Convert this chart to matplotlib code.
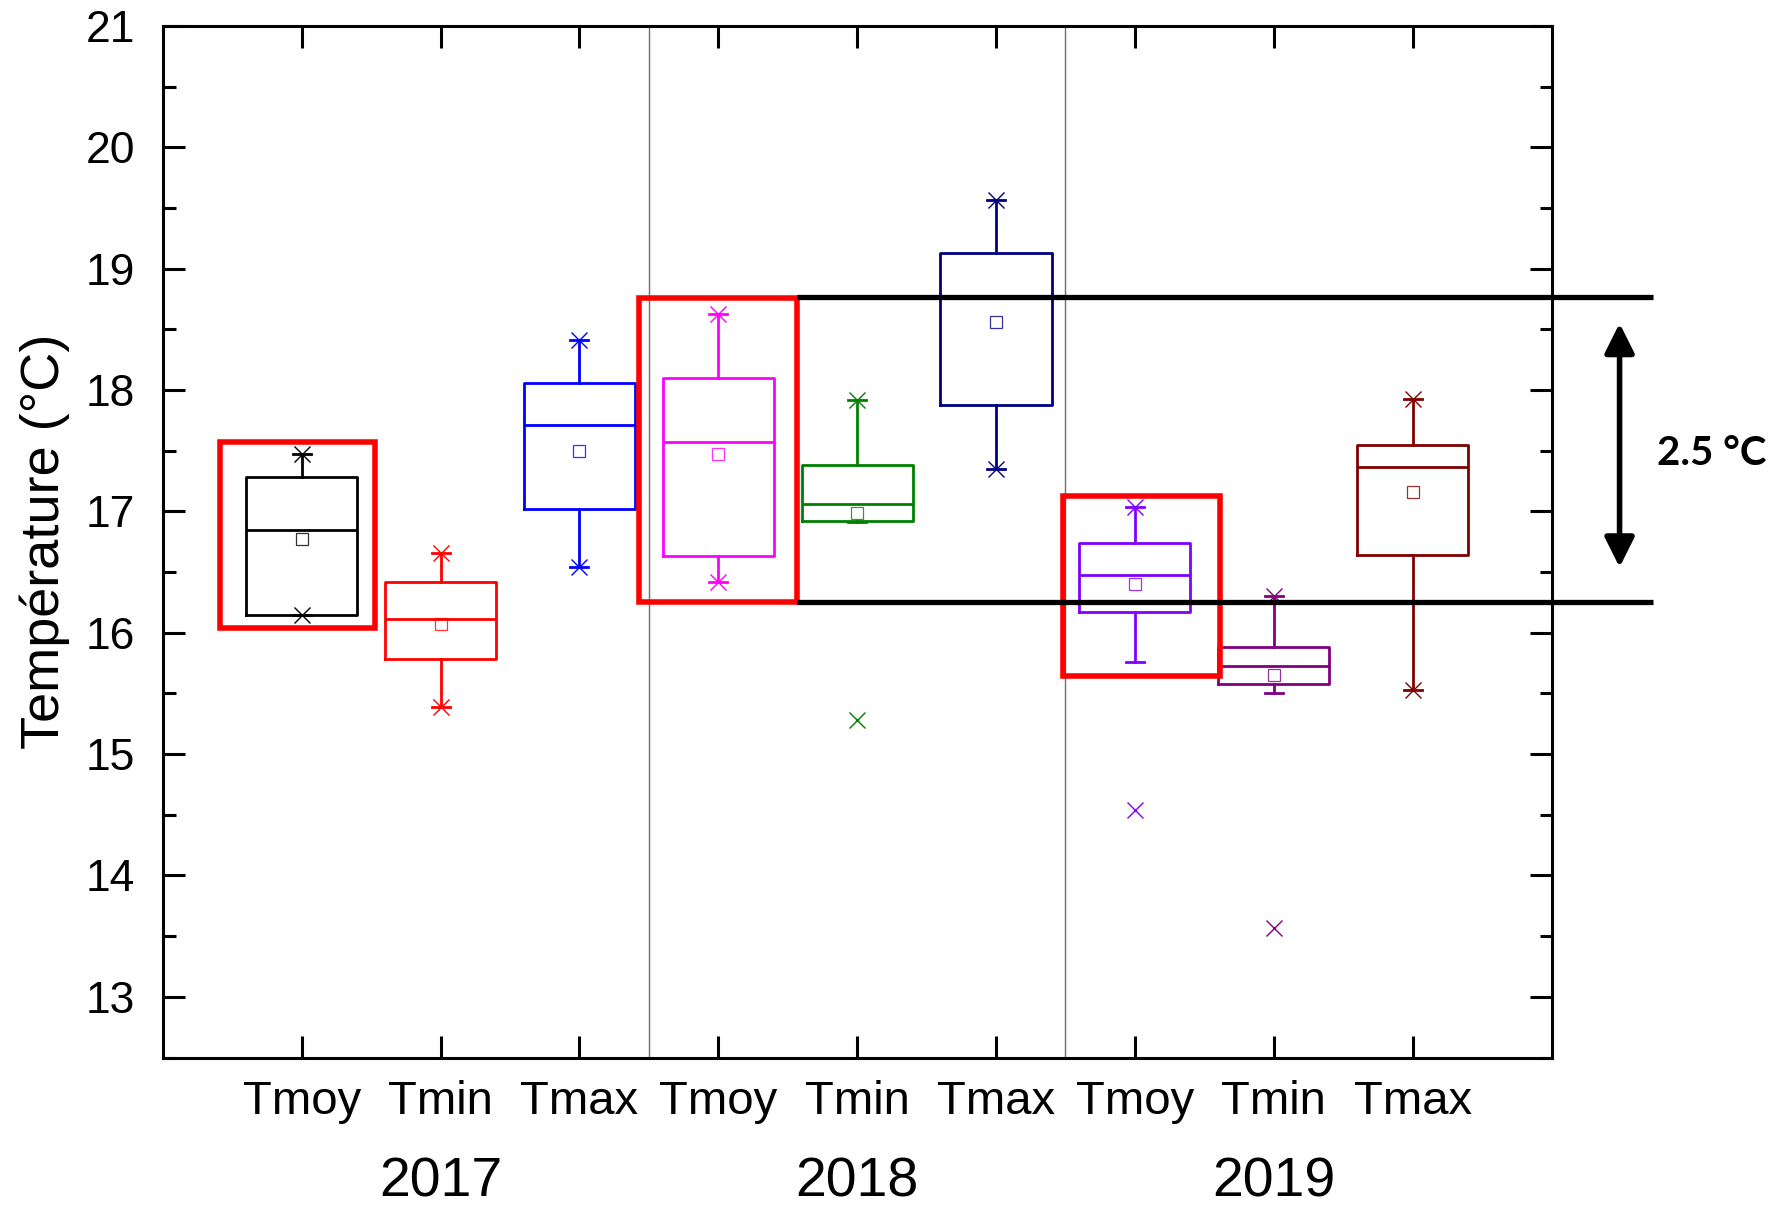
import matplotlib
matplotlib.use("Agg")
import matplotlib.pyplot as plt
from matplotlib.patches import Rectangle
from matplotlib.ticker import MultipleLocator
import matplotlib.transforms as mtransforms

# box plot statistics (°C)
positions = [1, 2, 3, 4, 5, 6, 7, 8, 9]
labels = ['Tmoy', 'Tmin', 'Tmax'] * 3
years = ['2017', '2018', '2019']
year_pos = [2, 5, 8]
colors = ['black', '#ff0000', '#0000ff', '#ff00ff', '#008000',
          '#000080', '#8000ff', '#800080', '#800000']

q1 = [16.15, 15.78, 17.02, 16.63, 16.92, 17.88, 16.17, 15.58, 16.64]
med = [16.85, 16.11, 17.71, 17.57, 17.06, 18.77, 16.48, 15.73, 17.37]
q3 = [17.28, 16.42, 18.06, 18.10, 17.38, 19.13, 16.74, 15.88, 17.55]
means = [16.77, 16.07, 17.50, 17.47, 16.99, 18.56, 16.40, 15.65, 17.16]
whislo = [16.15, 15.39, 16.54, 16.42, 16.91, 17.35, 15.76, 15.50, 15.53]
whishi = [17.47, 16.66, 18.41, 18.63, 17.92, 19.57, 17.04, 16.30, 17.93]
tmin = [16.15, 15.39, 16.54, 16.42, 15.28, 17.35, 14.54, 13.57, 15.53]
tmax = [17.47, 16.66, 18.41, 18.63, 17.92, 19.57, 17.04, 16.30, 17.93]

# highlight annotations (x0, x1, y0, y1 in data units)
highlights = [(0.41, 1.53, 16.04, 17.57),
              (3.43, 4.57, 16.25, 18.76),
              (6.48, 7.61, 15.64, 17.13)]
band = [16.25, 18.77]
band_x = [4.57, 10.73]
arrow_x = 10.49
arrow_y = [16.54, 18.55]

plt.rcParams['font.family'] = ['Liberation Sans', 'DejaVu Sans']

fig = plt.figure(figsize=(17.85, 12.14), dpi=100)
ax = fig.add_axes([0.0912, 0.1289, 0.8865 - 0.0912 - 0.0173, 0.9786 - 0.1289])

lw = 2.0
for i in range(len(positions)):
    c = colors[i]
    stats = [dict(q1=q1[i], med=med[i], q3=q3[i], mean=means[i],
                  whislo=whislo[i], whishi=whishi[i],
                  fliers=[tmin[i], tmax[i]])]
    ax.bxp(stats, positions=[positions[i]], widths=0.8, showmeans=True,
           capwidths=[0.13],
           boxprops=dict(color=c, linewidth=lw),
           medianprops=dict(color=c, linewidth=lw),
           whiskerprops=dict(color=c, linewidth=lw),
           capprops=dict(color=c, linewidth=lw),
           meanprops=dict(marker='s', markerfacecolor='none',
                          markeredgecolor=c, markersize=9,
                          markeredgewidth=0.9, alpha=0.8),
           flierprops=dict(marker='x', markeredgecolor=c, markersize=11,
                           markeredgewidth=1.0, linestyle='none'),
           manage_ticks=False)

# year separators
for xs in [3.5, 6.5]:
    ax.axvline(xs, color='#707070', linewidth=1.0, zorder=1)

ax.set_xlim(0, 10)
ax.set_ylim(12.5, 21)
ax.set_xticks(positions)
ax.set_xticklabels(labels)
ax.yaxis.set_major_locator(MultipleLocator(1))
ax.yaxis.set_minor_locator(MultipleLocator(0.5))
ax.tick_params(axis='both', which='both', direction='in', top=True,
               right=True, width=2.2)
ax.tick_params(axis='both', which='major', length=16)
ax.tick_params(axis='both', which='minor', length=9)
ax.tick_params(axis='x', labelsize=34, pad=16)
ax.tick_params(axis='y', labelsize=32, pad=20)
for sp in ax.spines.values():
    sp.set_linewidth(2.2)

ax.set_ylabel('Température (°C)', fontsize=39)
ax.yaxis.set_label_coords(-0.067, 0.5)

trans = mtransforms.blended_transform_factory(ax.transData, ax.transAxes)
for yp, yr in zip(year_pos, years):
    ax.text(yp, -0.121, yr, transform=trans, ha='center', va='center',
            fontsize=40)

# annotations
for x0, x1, y0, y1 in highlights:
    ax.add_patch(Rectangle((x0, y0), x1 - x0, y1 - y0, fill=False,
                           edgecolor='#ff0000', linewidth=4, zorder=5,
                           clip_on=False))
for yb in band:
    ax.plot(band_x, [yb, yb], color='black', linewidth=3.8, zorder=6,
            clip_on=False, solid_capstyle='butt')
ax.annotate('', xy=(arrow_x, arrow_y[1]), xytext=(arrow_x, arrow_y[0]),
            arrowprops=dict(arrowstyle='<|-|>', color='black', lw=4,
                            mutation_scale=45, shrinkA=0, shrinkB=0),
            annotation_clip=False)
ax.text(11.15, 17.48, '2.5 °C', ha='center', va='center', fontsize=29,
        fontweight='bold', family=['Lato', 'DejaVu Sans'])

fig.savefig('out.png', dpi=100)
